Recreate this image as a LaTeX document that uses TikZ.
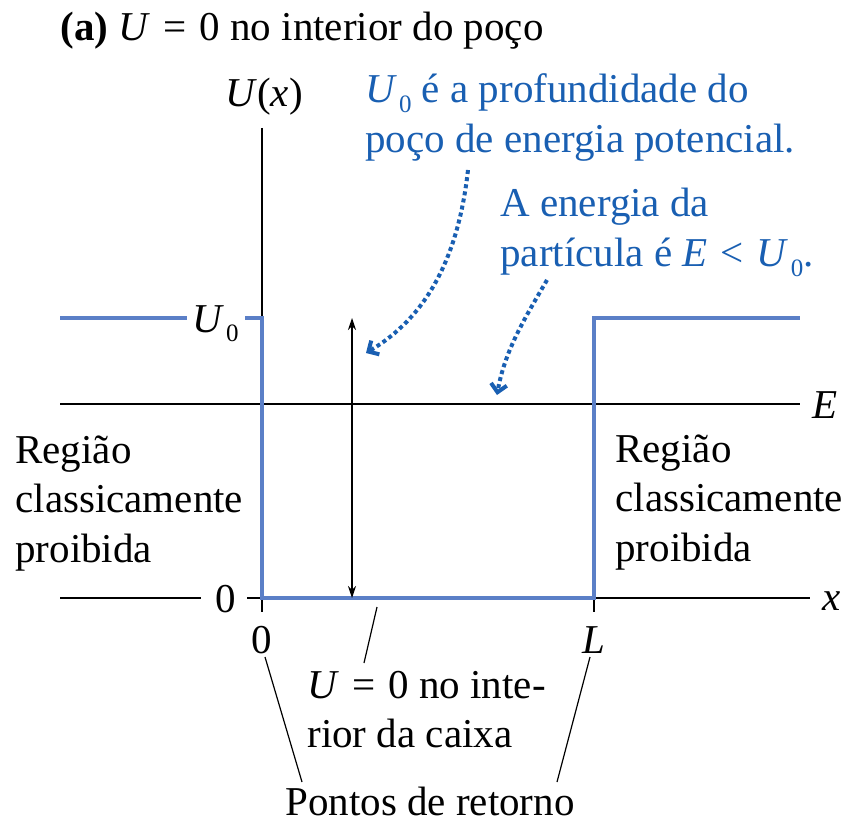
\documentclass[tikz,border=0pt]{standalone}
\usepackage{fontspec}
\setmainfont{Liberation Serif}
\usetikzlibrary{arrows.meta}
\definecolor{wellblue}{RGB}{91,127,199}
\definecolor{txtblue}{RGB}{25,95,178}
\newcommand\zsub{\raisebox{-5pt}{\fontsize{12.5}{12.5}\selectfont 0}}
\newcommand\Uo{\textit{U}\kern1pt\zsub}
\newcommand\rel[1]{\hspace{0.32em}#1\hspace{0.32em}}
\newcommand\mlines[1]{\begin{tabular}[t]{@{}l@{}}#1\end{tabular}}
\begin{document}
\begin{tikzpicture}[x=0.5pt,y=-0.5pt,
  font=\fontsize{20.5}{24.75}\selectfont,
  lbl/.style={inner sep=0pt, anchor=base west},
  axis/.style={line width=1pt, black},
  well/.style={line width=2pt, wellblue, line join=miter},
  pointer/.style={line width=0.6pt, black},
  dotarrow/.style={line width=2pt, txtblue, dash pattern=on 2pt off 1.6pt,
    -{Straight Barb[length=4pt,width=8pt,line width=2pt]}}]
\useasboundingbox[fill=white] (0,0) rectangle (850,823);

% axes and levels
\draw[axis] (262,128) -- (262,598);
\draw[axis] (60,404) -- (800,404);
\draw[axis] (60,598) -- (201,598);
\draw[axis] (247,598) -- (810,598);
\draw[axis] (262,598) -- (262,612);
\draw[axis] (594,598) -- (594,612);

% potential well
\draw[well] (60,318) -- (187,318);
\draw[well] (245,318) -- (262,318) -- (262,598) -- (594,598) -- (594,318) -- (800,318);

% depth arrow
\draw[pointer, {Stealth[length=6pt,width=4pt]}-{Stealth[length=6pt,width=4pt]}] (352,318) -- (352,598);

% labels
\node[lbl] (title) at (60,41) {\textbf{(a)} \textit{U}\rel{=}0 no interior do poço};
\node[lbl, anchor=base] (Ux) at (264,107) {\textit{U}(\textit{x})};
\node[lbl, text=txtblue] (note1) at (365,103) {\mlines{\Uo{} é a profundidade do\\poço de energia potencial.}};
\node[lbl, text=txtblue] (note2) at (500,217) {\mlines{A energia da\\partícula é \textit{E}\rel{<}\Uo.}};
\node[lbl] (U0) at (192,332) {\Uo};
\node[lbl] (Elab) at (812,418) {\textit{E}};
\node[lbl] (regL) at (15,463) {\mlines{Região\\classicamente\\proibida}};
\node[lbl] (regR) at (615,462) {\mlines{Região\\classicamente\\proibida}};
\node[lbl] (zeroY) at (215,612) {0};
\node[lbl] (xlab) at (822,610) {\textit{x}};
\node[lbl, anchor=base] (zeroX) at (262,653) {0};
\node[lbl, anchor=base] (Llab) at (594,653) {\textit{L}};
\node[lbl] (inside) at (307,698) {\mlines{\textit{U}\rel{=}0 no inte-\\rior da caixa}};
\node[lbl, anchor=base] (turn) at (430,815) {Pontos de retorno};

% pointer endpoints
\coordinate (inTop) at (377,607);
\coordinate (inBot) at (364,663);
\coordinate (t0a) at (265,657);
\coordinate (t0b) at (302,782);
\coordinate (tLa) at (590,657);
\coordinate (tLb) at (557,782);
\draw[pointer] (inTop) -- (inBot);
\draw[pointer] (t0a) -- (t0b);
\draw[pointer] (tLa) -- (tLb);

% dotted annotation arrows
\coordinate (d1s) at (468,170);
\coordinate (d1e) at (366,353);
\coordinate (d2s) at (547,280);
\coordinate (d2e) at (497,395);
\draw[dotarrow] (d1s) .. controls (458,260) and (425,318) .. (d1e);
\draw[dotarrow] (d2s) .. controls (525,318) and (505,350) .. (d2e);
\end{tikzpicture}
\end{document}
